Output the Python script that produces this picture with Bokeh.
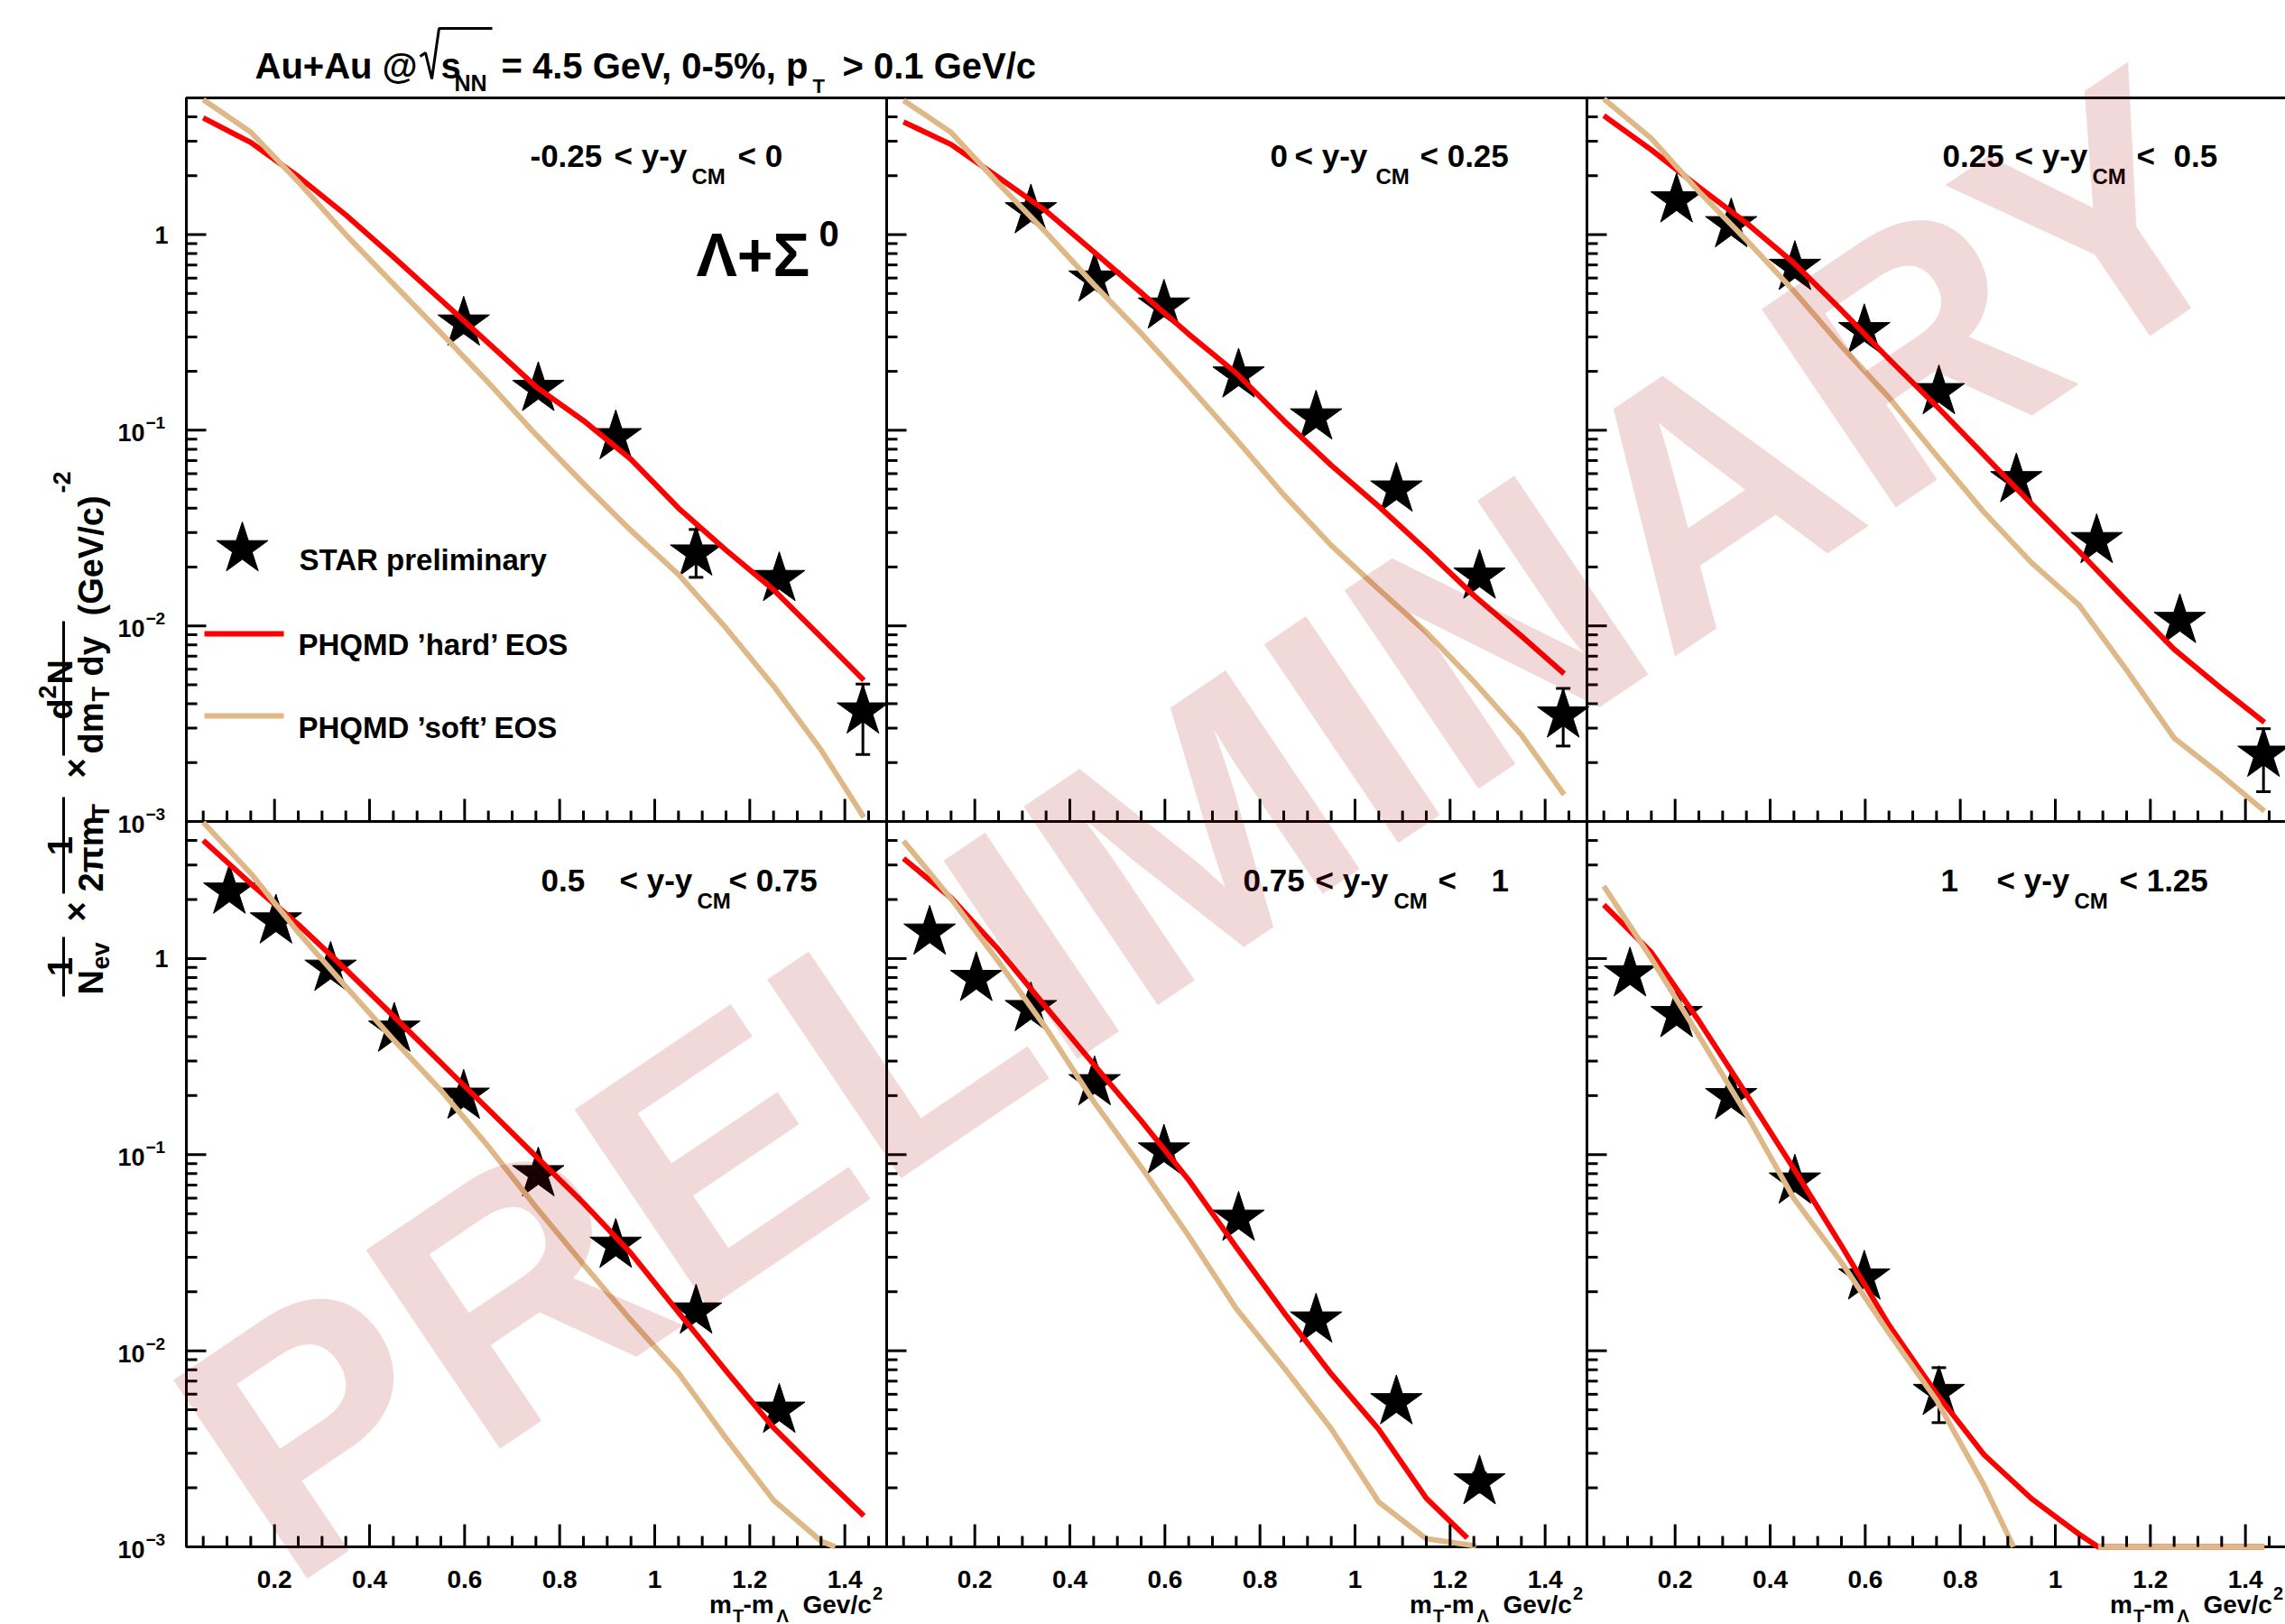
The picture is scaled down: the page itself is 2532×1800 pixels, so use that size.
import math
from bokeh.plotting import figure
from bokeh.models import Range1d, LinearScale, LogScale
from bokeh.core.properties import value
from bokeh.embed import file_html
from bokeh.resources import INLINE

# ---------------------------------------------------------------- data
rap_lo = ["-0.25", "0", "0.25", "0.5", "0.75", "1"]
rap_hi = ["0", "0.25", "0.5", "0.75", "1", "1.25"]

# m_T - m_Lambda bin centres of the measured points (GeV/c^2)
mt_bins = [0.105, 0.203, 0.318, 0.452, 0.598, 0.755, 0.918, 1.087, 1.262, 1.438]

star_x_1 = mt_bins[4:]
star_y_1 = [0.352, 0.163, 0.0924, 0.0235, 0.0174, 0.00366]
star_lo_1 = [0.335, 0.155, 0.088, 0.0177, 0.0160, 0.0022]
star_hi_1 = [0.370, 0.171, 0.097, 0.0311, 0.0190, 0.00504]

star_x_2 = mt_bins[2:]
star_y_2 = [1.32, 0.591, 0.430, 0.191, 0.1166, 0.0499, 0.0179, 0.00349]
star_lo_2 = [1.26, 0.565, 0.410, 0.182, 0.111, 0.0475, 0.0168, 0.00243]
star_hi_2 = [1.38, 0.617, 0.450, 0.200, 0.122, 0.0523, 0.0190, 0.00479]

star_x_3 = mt_bins[1:]
star_y_3 = [1.50, 1.12, 0.678, 0.322, 0.157, 0.0557, 0.0272, 0.01062, 0.0022]
star_lo_3 = [1.43, 1.07, 0.648, 0.307, 0.150, 0.0531, 0.0259, 0.0100, 0.00142]
star_hi_3 = [1.57, 1.17, 0.708, 0.337, 0.164, 0.0583, 0.0285, 0.0113, 0.00298]

star_x_4 = mt_bins[:9]
star_y_4 = [2.2, 1.55, 0.89, 0.435, 0.198, 0.0797, 0.0344, 0.0159, 0.00496]
star_lo_4 = [2.1, 1.48, 0.85, 0.415, 0.189, 0.0760, 0.0328, 0.0150, 0.00460]
star_hi_4 = [2.3, 1.62, 0.93, 0.455, 0.207, 0.0834, 0.0360, 0.0168, 0.00532]

star_x_5 = mt_bins[:9]
star_y_5 = [1.36, 0.789, 0.554, 0.232, 0.104, 0.0473, 0.0143, 0.00548, 0.00214]
star_lo_5 = [1.30, 0.753, 0.529, 0.221, 0.0993, 0.0451, 0.0134, 0.00505, 0.00190]
star_hi_5 = [1.42, 0.825, 0.579, 0.243, 0.109, 0.0495, 0.0152, 0.00591, 0.00238]

star_x_6 = mt_bins[:6]
star_y_6 = [0.833, 0.516, 0.197, 0.0731, 0.0237, 0.00611]
star_lo_6 = [0.795, 0.493, 0.188, 0.0698, 0.0220, 0.0043]
star_hi_6 = [0.871, 0.539, 0.206, 0.0764, 0.0254, 0.0082]

# PHQMD model curves ('hard' and 'soft' equation of state)
mt_grid = [0.05, 0.15, 0.25, 0.35, 0.45, 0.55, 0.65, 0.75, 0.85, 0.95, 1.05, 1.15, 1.25, 1.35, 1.44]

hard_x_1 = mt_grid
hard_y_1 = [3.95, 2.96, 1.98, 1.26, 0.77, 0.464, 0.279, 0.167, 0.112, 0.071, 0.040, 0.0244, 0.0153, 0.00877, 0.00527]
soft_x_1 = mt_grid
soft_y_1 = [4.9, 3.34, 1.86, 1.0, 0.56, 0.315, 0.175, 0.095, 0.0534, 0.0307, 0.0183, 0.00975, 0.00493, 0.00232, 0.00105]

hard_x_2 = mt_grid
hard_y_2 = [3.77, 2.89, 1.96, 1.32, 0.818, 0.505, 0.310, 0.196, 0.112, 0.0662, 0.0408, 0.0244, 0.0143, 0.00888, 0.00569]
soft_x_2 = mt_grid
soft_y_2 = [4.86, 3.33, 1.82, 1.024, 0.557, 0.313, 0.169, 0.0898, 0.0468, 0.0258, 0.01537, 0.00928, 0.00519, 0.00277, 0.00137]

hard_x_3 = mt_grid
hard_y_3 = [4.06, 2.71, 1.75, 1.147, 0.715, 0.411, 0.231, 0.133, 0.0746, 0.0420, 0.0240, 0.0134, 0.00759, 0.00478, 0.00321]
soft_x_3 = mt_grid
soft_y_3 = [4.94, 3.10, 1.66, 0.938, 0.514, 0.269, 0.147, 0.0743, 0.0381, 0.0210, 0.01277, 0.00594, 0.00267, 0.00172, 0.00113]

hard_x_4 = mt_grid
hard_y_4 = [4.0, 2.41, 1.49, 0.88, 0.51, 0.294, 0.170, 0.098, 0.0567, 0.0314, 0.0157, 0.0079, 0.00405, 0.00233, 0.00144]
soft_x_4 = mt_grid[:14] + [1.38]
soft_y_4 = [4.95, 2.72, 1.36, 0.72, 0.386, 0.213, 0.110, 0.054, 0.0276, 0.0143, 0.0077, 0.00358, 0.00173, 0.00107, 0.00100]

hard_x_5 = mt_grid[:12] + [1.236]
hard_y_5 = [3.24, 2.04, 1.11, 0.564, 0.289, 0.149, 0.0743, 0.0338, 0.0157, 0.00762, 0.00397, 0.00177, 0.00111]
soft_x_5 = mt_grid[:12] + [1.255]
soft_y_5 = [3.98, 2.02, 0.964, 0.441, 0.187, 0.0865, 0.0385, 0.0164, 0.00823, 0.00400, 0.00169, 0.0011, 0.00101]

hard_x_6 = mt_grid[:11] + [1.09, 1.44]
hard_y_6 = [1.88, 1.075, 0.481, 0.203, 0.0846, 0.0343, 0.0135, 0.00604, 0.00295, 0.00176, 0.00116, 0.00100, 0.00100]
soft_x_6 = mt_grid[:9] + [0.912]
soft_y_6 = [2.34, 1.00, 0.404, 0.161, 0.0597, 0.0282, 0.0123, 0.0056, 0.00206, 0.00100]
soft_tail_x_6 = [1.09, 1.44]
soft_tail_y_6 = [0.00100, 0.00100]

x_major = [0.2, 0.4, 0.6, 0.8, 1.0, 1.2, 1.4]
x_tick_labels = ["0.2", "0.4", "0.6", "0.8", "1", "1.2", "1.4"]
x_minor = [0.05, 0.1, 0.15, 0.25, 0.3, 0.35, 0.45, 0.5, 0.55, 0.65, 0.7, 0.75,
           0.85, 0.9, 0.95, 1.05, 1.1, 1.15, 1.25, 1.3, 1.35, 1.45]
y_major = [0.001, 0.01, 0.1, 1.0]
y_major_exp = ["\u22123", "\u22122", "\u22121", None]
y_minor = [k * 10.0 ** e for e in (-3, -2, -1) for k in range(2, 10)] + [2.0, 3.0, 4.0]

# ---------------------------------------------------------------- layout (page pixels)
CANVAS_W, CANVAS_H = 2532, 1800
FONT = "Liberation Sans"
RED = "#ff0000"
TAN = "#deb887"
STAR_SIZE = 60

COL_L = [206, 982, 1758]
COL_W = 776
ROW_T = [108, 910]
ROW_B = [910, 1714]
X_LO = 0.0145
X_PER_PX = 1.4735 / COL_W
X_HI = X_LO + COL_W * X_PER_PX
Y_LO, Y_HI = 1e-3, 5.0
X_TICK_MAJ, X_TICK_MIN = 25, 12
Y_TICK_MAJ, Y_TICK_MIN = 22, 12

WM_X, WM_Y, WM_ANGLE, WM_SIZE = 244, 1653, 34.0, 386

p = figure(width=CANVAS_W, height=CANVAS_H, x_range=Range1d(0, CANVAS_W), y_range=Range1d(CANVAS_H, 0),
           x_axis_location=None, y_axis_location=None, min_border=0, outline_line_color=None,
           toolbar_location=None, output_backend="svg",
           background_fill_color="white", border_fill_color="white")
p.grid.visible = False

# one linear m_T scale per panel column, one log yield scale per panel row
log_span = math.log10(Y_HI / Y_LO)
x_ranges, x_scales, y_ranges, y_scales = {}, {}, {}, {}
for c in range(3):
    x_ranges[f"c{c}"] = Range1d(X_LO - COL_L[c] * X_PER_PX, X_LO + (CANVAS_W - COL_L[c]) * X_PER_PX)
    x_scales[f"c{c}"] = LinearScale()
for r in range(2):
    dec = (ROW_B[r] - ROW_T[r]) / log_span
    lo = math.log10(Y_LO) - (CANVAS_H - ROW_B[r]) / dec
    hi = math.log10(Y_LO) + ROW_B[r] / dec
    y_ranges[f"r{r}"] = Range1d(10 ** lo, 10 ** hi)
    y_scales[f"r{r}"] = LogScale()
p.extra_x_ranges = x_ranges
p.extra_x_scales = x_scales
p.extra_y_ranges = y_ranges
p.extra_y_scales = y_scales


def add_text(x, y, s, size, align="left", baseline="alphabetic", angle=0.0, **kw):
    p.text(x=[x], y=[y], text=[s], text_font=value(FONT), text_font_style="bold",
           text_font_size=f"{size}px", text_align=align, text_baseline=baseline,
           angle=angle, text_color="black", **kw)


data = [
    (star_x_1, star_y_1, star_lo_1, star_hi_1, hard_x_1, hard_y_1, soft_x_1, soft_y_1),
    (star_x_2, star_y_2, star_lo_2, star_hi_2, hard_x_2, hard_y_2, soft_x_2, soft_y_2),
    (star_x_3, star_y_3, star_lo_3, star_hi_3, hard_x_3, hard_y_3, soft_x_3, soft_y_3),
    (star_x_4, star_y_4, star_lo_4, star_hi_4, hard_x_4, hard_y_4, soft_x_4, soft_y_4),
    (star_x_5, star_y_5, star_lo_5, star_hi_5, hard_x_5, hard_y_5, soft_x_5, soft_y_5),
    (star_x_6, star_y_6, star_lo_6, star_hi_6, hard_x_6, hard_y_6, soft_x_6, soft_y_6),
]

for i in range(6):
    r, c = divmod(i, 3)
    xr, yr = f"c{c}", f"r{r}"
    sx, sy, slo, shi, hx, hy, tx, ty = data[i]
    # panel frame
    p.quad(left=[X_LO], right=[X_HI], bottom=[Y_LO], top=[Y_HI], fill_color=None,
           line_color="black", line_width=3, x_range_name=xr, y_range_name=yr)
    # measured spectra with error bars
    p.segment(x0=sx, x1=sx, y0=slo, y1=shi, line_color="black", line_width=3,
              x_range_name=xr, y_range_name=yr)
    p.scatter(sx + sx, slo + shi, marker="dash", size=16, line_color="black", line_width=3,
              x_range_name=xr, y_range_name=yr)
    p.scatter(sx, sy, marker="star", size=STAR_SIZE, fill_color="black", line_color="black",
              x_range_name=xr, y_range_name=yr)
    # model curves
    p.line(hx, hy, line_color=RED, line_width=6, line_join="round", x_range_name=xr, y_range_name=yr)
    p.line(tx, ty, line_color=TAN, line_width=6, line_join="round", x_range_name=xr, y_range_name=yr)
    if i == 5:
        p.line(soft_tail_x_6, soft_tail_y_6, line_color=TAN, line_width=6,
               x_range_name=xr, y_range_name=yr)
    # ticks pointing into the panel
    yb = ROW_B[r]
    p.segment(x0=x_major, x1=x_major, y0=[yb] * len(x_major), y1=[yb - X_TICK_MAJ] * len(x_major),
              line_color="black", line_width=3, x_range_name=xr)
    p.segment(x0=x_minor, x1=x_minor, y0=[yb] * len(x_minor), y1=[yb - X_TICK_MIN] * len(x_minor),
              line_color="black", line_width=3, x_range_name=xr)
    xl = COL_L[c]
    p.segment(x0=[xl] * len(y_major), x1=[xl + Y_TICK_MAJ] * len(y_major), y0=y_major, y1=y_major,
              line_color="black", line_width=3, y_range_name=yr)
    p.segment(x0=[xl] * len(y_minor), x1=[xl + Y_TICK_MIN] * len(y_minor), y0=y_minor, y1=y_minor,
              line_color="black", line_width=3, y_range_name=yr)
    # tick labels
    if r == 1:
        p.text(x=x_major, y=[1750] * len(x_major), text=x_tick_labels, text_font=value(FONT),
               text_font_style="bold", text_font_size="28px", text_align="center",
               text_baseline="alphabetic", text_color="black", x_range_name=xr)
    if c == 0:
        for yv, ex in zip(y_major, y_major_exp):
            if ex is None:
                add_text(186, yv, "1", 27, align="right", baseline="middle", y_range_name=yr)
            else:
                p.text(x=[160], y=[yv], text=["10"], y_offset=3, text_font=value(FONT),
                       text_font_style="bold", text_font_size="27px", text_align="right",
                       text_baseline="middle", text_color="black", y_range_name=yr)
                p.text(x=[161], y=[yv], text=[ex], y_offset=-8, text_font=value(FONT),
                       text_font_style="bold", text_font_size="19px", text_align="left",
                       text_baseline="middle", text_color="black", y_range_name=yr)

# rapidity window of each panel
rap_pieces = [
    [(rap_lo[0], 587, "m"), ("< y-y", 680, "m"), ("CM", 766, "s"), ("< " + rap_hi[0], 817, "m")],
    [(rap_lo[1], 1407, "m"), ("< y-y", 1434, "m"), ("CM", 1524, "s"), ("< " + rap_hi[1], 1573, "m")],
    [(rap_lo[2], 2152, "m"), ("< y-y", 2232, "m"), ("CM", 2318, "s"), ("<", 2367, "m"), (rap_hi[2], 2408, "m")],
    [(rap_lo[3], 599, "m"), ("< y-y", 686, "m"), ("CM", 772, "s"), ("< " + rap_hi[3], 807, "m")],
    [(rap_lo[4], 1377, "m"), ("< y-y", 1457, "m"), ("CM", 1544, "s"), ("<", 1593, "m"), (rap_hi[4], 1652, "m")],
    [(rap_lo[5], 2150, "m"), ("< y-y", 2212, "m"), ("CM", 2298, "s"), ("< " + rap_hi[5], 2348, "m")],
]
for i, pieces in enumerate(rap_pieces):
    r = i // 3
    base = 172 if r == 0 else 975
    sub = 195 if r == 0 else 998
    for s, x, kind in pieces:
        if kind == "s":
            add_text(x, sub, s, 24)
        else:
            add_text(x, base, s, 35)

# x-axis titles under the lower panels
for c in range(3):
    x0 = COL_L[c]
    for s, dx, yb, sz in [("m", 579.5, 1778, 28), ("T", 605.5, 1790, 20), ("-m", 617, 1778, 28),
                          ("\u039b", 654, 1790, 20), ("Gev/c", 683, 1778, 28), ("2", 760.5, 1765, 20)]:
        add_text(x0 + dx, yb, s, sz)

# particle label and legend
add_text(771, 281.7, "\u039b+\u03a3", 68)
add_text(907, 258, "0", 40)
p.scatter([268], [608], marker="star", size=STAR_SIZE, color="black")
add_text(331, 620, "STAR preliminary", 33)
p.line([226, 314], [702, 702], line_color=RED, line_width=6)
add_text(330, 714, "PHQMD \u2019hard\u2019 EOS", 33)
p.line([226, 314], [793, 793], line_color=TAN, line_width=6)
add_text(330, 806, "PHQMD \u2019soft\u2019 EOS", 33)

# title
add_text(282, 72, "Au+Au @", 40)
p.line([465, 471, 478, 486, 545], [62, 58, 87, 31, 31], line_color="black", line_width=3)
add_text(488, 72, "s", 40)
add_text(503, 91, "NN", 25)
add_text(555, 72, "= 4.5 GeV, 0-5%, p", 40)
add_text(900, 95, "T", 22)
add_text(933, 72, "> 0.1 GeV/c", 40)

# rotated y-axis title: 1/N_ev x 1/(2 pi m_T) x d2N/(dm_T dy) (GeV/c)^-2
UP = math.pi / 2
YT, YS = 38, 27
add_text(66, 1071, "1", YT, align="center", angle=UP)
p.segment(x0=[70], x1=[70], y0=[1038], y1=[1104], line_color="black", line_width=3)
add_text(100, 1102, "N", YT, angle=UP)
add_text(111, 1074, "ev", YS, angle=UP)
add_text(84, 1010, "\u00d7", YT, align="center", baseline="middle", angle=UP)
add_text(66, 937, "1", YT, align="center", angle=UP)
p.segment(x0=[70], x1=[70], y0=[883], y1=[990], line_color="black", line_width=3)
add_text(100, 988, "2\u03c0m", YT, angle=UP)
add_text(111, 907, "T", YS, angle=UP)
add_text(84, 851, "\u00d7", YT, align="center", baseline="middle", angle=UP)
add_text(66, 797, "d", YT, angle=UP)
add_text(52, 774, "2", YS, angle=UP)
add_text(66, 758, "N", YT, angle=UP)
p.segment(x0=[70], x1=[70], y0=[688], y1=[837], line_color="black", line_width=3)
add_text(100, 835, "dm", YT, angle=UP)
add_text(111, 777, "T", YS, angle=UP)
add_text(100, 749, "dy", YT, angle=UP)
add_text(100, 682, "(GeV/c)", YT, angle=UP)
add_text(68, 546, "-2", YS, angle=UP)

# preliminary watermark on top of everything
p.text(x=[WM_X], y=[WM_Y], text=["PRELIMINARY"], angle=math.radians(WM_ANGLE),
       text_font=value(FONT), text_font_style="bold", text_font_size=f"{WM_SIZE}px",
       text_color="#aa0000", text_alpha=0.15, text_align="left", text_baseline="alphabetic")

open("out.html", "w").write(file_html(p, INLINE))
